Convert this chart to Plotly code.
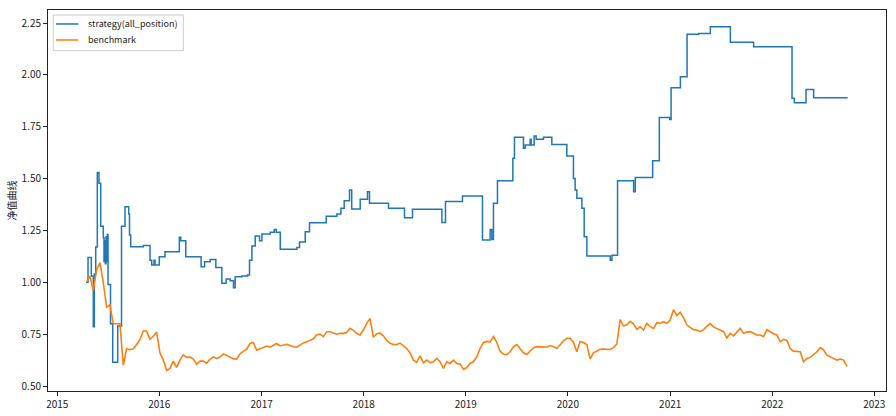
import pandas as pd
import plotly.graph_objects as go

# ---------------- data ----------------
# strategy net value: change points (decimal year, value); held until next point
strategy_years = [
    2015.2821, 2015.3017, 2015.3340, 2015.3536, 2015.3634, 2015.3771, 2015.3927, 2015.4094,
    2015.4261, 2015.4515, 2015.4584, 2015.4652, 2015.4711, 2015.4780, 2015.4848, 2015.4907,
    2015.4976, 2015.5220, 2015.5436, 2015.5926, 2015.6298, 2015.6641, 2015.7003, 2015.7081,
    2015.7199, 2015.8433, 2015.9089, 2015.9256, 2015.9481, 2015.9579, 2016.0000, 2016.0558,
    2016.1959, 2016.2096, 2016.2586, 2016.4084, 2016.4427, 2016.4966, 2016.5524, 2016.6112,
    2016.6533, 2016.6925, 2016.7248, 2016.7414, 2016.8071, 2016.8619, 2016.8815, 2016.9050,
    2016.9373, 2016.9794, 2017.0029, 2017.0842, 2017.1234, 2017.1430, 2017.1822, 2017.3457,
    2017.3712, 2017.4270, 2017.4691, 2017.6327, 2017.7375, 2017.7767, 2017.8090, 2017.8609,
    2017.8825, 2017.9657, 2018.0372, 2018.0568, 2018.2429, 2018.3996, 2018.4780, 2018.7659,
    2018.8012, 2018.9677, 2019.1636, 2019.2390, 2019.2556, 2019.2713, 2019.3105, 2019.4613,
    2019.4770, 2019.5651, 2019.5818, 2019.6308, 2019.6405, 2019.6699, 2019.6895, 2019.7610,
    2019.8433, 2019.9902, 2020.0548, 2020.0715, 2020.0881, 2020.1371, 2020.1597, 2020.1861,
    2020.4143, 2020.4309, 2020.4858, 2020.6425, 2020.6591, 2020.8286, 2020.8942, 2020.9951,
    2021.0088, 2021.0999, 2021.1655, 2021.2791, 2021.3937, 2021.5896, 2021.8178, 2022.1939,
    2022.2165, 2022.3310, 2022.4055, 2022.7385,
]
strategy_values = [
    1.00, 1.12, 1.03, 0.786, 1.04, 1.17, 1.53, 1.478,
    1.27, 1.215, 1.10, 1.20, 1.09, 1.22, 1.10, 1.23,
    0.99, 0.80, 0.615, 0.79, 1.27, 1.364, 1.33, 1.228,
    1.172, 1.177, 1.107, 1.083, 1.107, 1.083, 1.123, 1.147,
    1.217, 1.20, 1.123, 1.075, 1.099, 1.11, 1.072, 0.995,
    1.016, 1.007, 0.974, 1.027, 1.03, 1.035, 1.107, 1.175,
    1.223, 1.20, 1.233, 1.242, 1.255, 1.241, 1.159, 1.168,
    1.195, 1.244, 1.287, 1.319, 1.329, 1.357, 1.393, 1.445,
    1.353, 1.401, 1.437, 1.381, 1.357, 1.311, 1.352, 1.289,
    1.39, 1.416, 1.204, 1.255, 1.207, 1.381, 1.49, 1.598,
    1.699, 1.646, 1.662, 1.69, 1.662, 1.705, 1.69, 1.70,
    1.665, 1.609, 1.50, 1.445, 1.405, 1.357, 1.22, 1.127,
    1.106, 1.13, 1.49, 1.437, 1.505, 1.586, 1.795, 1.785,
    1.938, 1.991, 2.196, 2.20, 2.232, 2.157, 2.136, 1.887,
    1.866, 1.93, 1.89, 1.89,
]

# benchmark net value sampled on an even grid between these two dates
benchmark_start = "2015-04-16"
benchmark_end = "2022-09-25"
benchmark_values = [
    1.00, 1.03, 0.96, 1.06, 1.095, 1.00, 0.88, 0.89, 0.80, 0.80,
    0.80, 0.60, 0.68, 0.675, 0.68, 0.70, 0.725, 0.765, 0.765, 0.725,
    0.74, 0.76, 0.66, 0.625, 0.575, 0.585, 0.62, 0.59, 0.625, 0.65,
    0.638, 0.64, 0.63, 0.605, 0.62, 0.62, 0.61, 0.63, 0.64, 0.633,
    0.64, 0.655, 0.647, 0.643, 0.632, 0.63, 0.655, 0.667, 0.678, 0.705,
    0.71, 0.673, 0.681, 0.685, 0.693, 0.687, 0.697, 0.705, 0.693, 0.698,
    0.701, 0.695, 0.689, 0.687, 0.697, 0.708, 0.713, 0.721, 0.728, 0.746,
    0.75, 0.738, 0.762, 0.762, 0.754, 0.75, 0.754, 0.754, 0.758, 0.778,
    0.768, 0.754, 0.746, 0.770, 0.802, 0.826, 0.735, 0.752, 0.755, 0.742,
    0.72, 0.706, 0.70, 0.70, 0.707, 0.695, 0.681, 0.66, 0.625, 0.615,
    0.645, 0.612, 0.625, 0.613, 0.617, 0.633, 0.617, 0.585, 0.617, 0.609,
    0.625, 0.609, 0.606, 0.58, 0.589, 0.609, 0.617, 0.641, 0.681, 0.71,
    0.715, 0.713, 0.738, 0.71, 0.668, 0.653, 0.652, 0.665, 0.689, 0.70,
    0.682, 0.66, 0.652, 0.67, 0.685, 0.69, 0.69, 0.688, 0.688, 0.695,
    0.69, 0.681, 0.70, 0.717, 0.73, 0.73, 0.71, 0.665, 0.715, 0.71,
    0.70, 0.63, 0.66, 0.669, 0.677, 0.678, 0.677, 0.676, 0.685, 0.703,
    0.82, 0.79, 0.794, 0.812, 0.80, 0.773, 0.786, 0.770, 0.802, 0.786,
    0.778, 0.805, 0.802, 0.810, 0.802, 0.818, 0.868, 0.84, 0.856, 0.83,
    0.794, 0.785, 0.772, 0.770, 0.762, 0.772, 0.785, 0.802, 0.785, 0.778,
    0.770, 0.762, 0.732, 0.754, 0.742, 0.762, 0.778, 0.754, 0.760, 0.762,
    0.755, 0.746, 0.746, 0.738, 0.772, 0.76, 0.752, 0.746, 0.713, 0.725,
    0.72, 0.68, 0.668, 0.667, 0.665, 0.617, 0.633, 0.638, 0.65, 0.665,
    0.685, 0.675, 0.649, 0.641, 0.633, 0.625, 0.630, 0.625, 0.595,
]

year_ticks = ["2015", "2016", "2017", "2018", "2019", "2020", "2021", "2022", "2023"]
y_ticks = [0.50, 0.75, 1.00, 1.25, 1.50, 1.75, 2.00, 2.25]

series_names = ["strategy(all_position)", "benchmark"]
series_colors = ["#1f77b4", "#ff7f0e"]
y_title = "净值曲线"


def year_to_date(y):
    yr = int(y)
    start = pd.Timestamp(yr, 1, 1)
    days = (pd.Timestamp(yr + 1, 1, 1) - start).days
    return start + pd.Timedelta(days=(y - yr) * days)


strategy_dates = [year_to_date(y) for y in strategy_years]
benchmark_dates = pd.date_range(benchmark_start, benchmark_end, periods=len(benchmark_values))

FONT = "Noto Sans CJK SC, DejaVu Sans, sans-serif"

fig = go.Figure()
fig.add_trace(go.Scatter(
    x=strategy_dates, y=strategy_values, mode="lines", name=series_names[0],
    line=dict(color=series_colors[0], width=1.5, shape="hv"),
))
fig.add_trace(go.Scatter(
    x=benchmark_dates, y=benchmark_values, mode="lines", name=series_names[1],
    line=dict(color=series_colors[1], width=1.6),
))

# matplotlib-style legend box (upper left), in plot-area fractions
shapes = [dict(
    type="rect", xref="paper", yref="paper",
    x0=0.0063, x1=0.1615, y0=0.8932, y1=0.9869,
    line=dict(color="#cccccc", width=1), fillcolor="rgba(255,255,255,0.85)",
    layer="above",
)]
annotations = []
legend_rows = [0.9633, 0.9213]
for name, color, ry in zip(series_names, series_colors, legend_rows):
    shapes.append(dict(
        type="line", xref="paper", yref="paper",
        x0=0.0095, x1=0.0362, y0=ry, y1=ry,
        line=dict(color=color, width=1.5), layer="above",
    ))
    annotations.append(dict(
        text=name, xref="paper", yref="paper", x=0.0453, y=ry,
        xanchor="left", yanchor="middle", showarrow=False,
        font=dict(size=9, color="#222", family=FONT),
    ))

annotations.append(dict(
    text=y_title, xref="paper", yref="paper", x=-0.043, y=0.5,
    xanchor="center", yanchor="middle", textangle=-90, showarrow=False,
    font=dict(size=10, color="#222", family=FONT),
))

fig.update_layout(
    width=896, height=416,
    margin=dict(l=48, r=10, t=10, b=25, autoexpand=False),
    paper_bgcolor="white", plot_bgcolor="white",
    font=dict(family=FONT, size=10, color="#222"),
    showlegend=False,
    shapes=shapes,
    annotations=annotations,
)

fig.update_xaxes(
    type="date", automargin=False,
    range=["2014-11-29", "2023-02-11 19:00"],
    tickvals=[pd.Timestamp(int(t), 1, 1) for t in year_ticks],
    ticktext=year_ticks,
    ticks="outside", ticklen=4, tickcolor="#222", tickwidth=1,
    showline=True, linecolor="#222", linewidth=1, mirror=True,
    showgrid=False, zeroline=False,
)
fig.update_yaxes(
    automargin=False,
    range=[0.476, 2.313],
    tickvals=y_ticks,
    ticktext=[f"{v:.2f}" for v in y_ticks],
    ticks="outside", ticklen=4, tickcolor="#222", tickwidth=1,
    showline=True, linecolor="#222", linewidth=1, mirror=True,
    showgrid=False, zeroline=False,
)

fig.write_html("out.html", config={"displayModeBar": False})

# remove the browser's default page margin so the figure sits at (0, 0)
with open("out.html", "r", encoding="utf-8") as f:
    html = f.read()
html = html.replace("<head>", "<head><style>html,body{margin:0;padding:0;}</style>", 1)
with open("out.html", "w", encoding="utf-8") as f:
    f.write(html)
